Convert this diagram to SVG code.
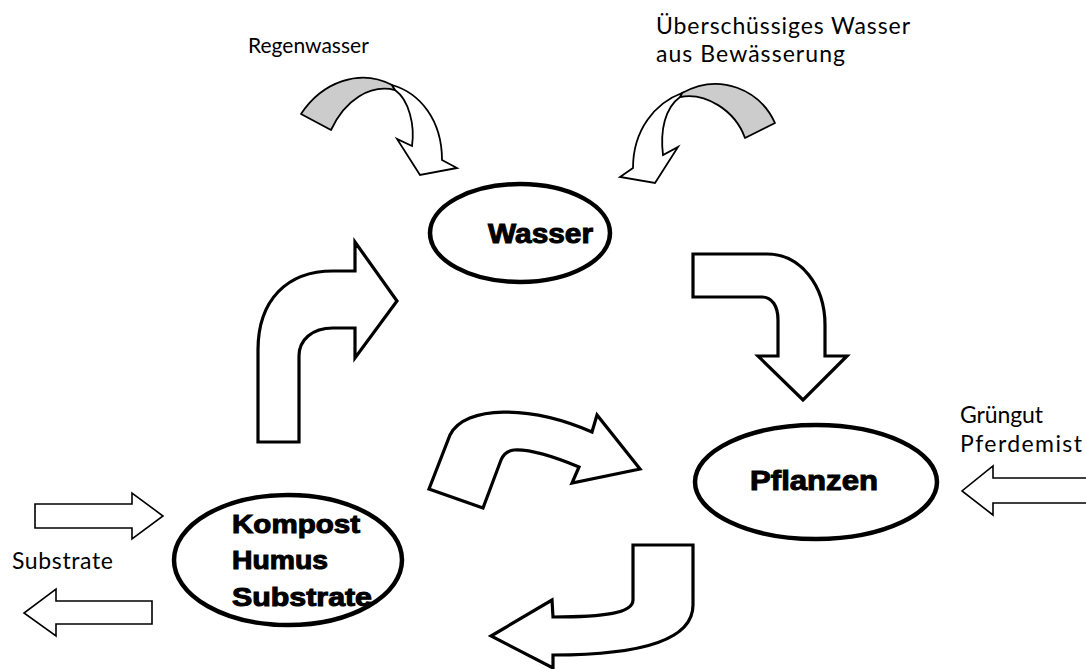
<svg xmlns="http://www.w3.org/2000/svg" width="1086" height="669" viewBox="0 0 1086 669">
<style>
.node{fill:#fff;stroke:#000;stroke-width:4.5}
.big{font-family:"Liberation Sans",Arial,sans-serif;font-weight:bold;fill:#000;stroke:#000;stroke-width:1}
.lbl{font-family:Lato,"Liberation Sans",sans-serif;font-size:23px;fill:#000}
.blk{fill:#fff;stroke:#000;stroke-width:3.2;stroke-linejoin:miter}
.thin{fill:#fff;stroke:#000;stroke-width:1.6;stroke-linejoin:miter}
.grey{fill:#cccccc;stroke:#000;stroke-width:1.8;stroke-linejoin:round}
.curv{fill:#fff;stroke:#000;stroke-width:1.8;stroke-linejoin:miter}
</style>
<rect width="1086" height="669" fill="#fff"/>
<g id="connectors">
  <!-- Regenwasser inflow -->
  <path class="grey" d="M301,114 C322,82 360,68 392,85 L395,90 C370,84 345,100 331,130 Z"/>
  <path class="curv" d="M392,85 C420,93 442,120 442,160 L457,168 L420,175 L397,139 L412,146 C415,125 409,100 395,90 Z"/>
  <!-- Bewaesserung inflow -->
  <path class="grey" d="M775,123 C760,90 720,72 682,93 L680,97 C705,92 735,110 745,138 Z"/>
  <path class="curv" d="M682,93 C655,103 633,130 633,168 L620,177 L655,183 L678,147 L663,155 C660,130 665,108 680,97 Z"/>
  <!-- Kompost to Wasser -->
  <path class="blk" d="M258,442 L258,350 C258,300 287,271 333,271 L355,271 L355,242 L397,301 L355,358 L355,328 L333,328 C312,328 299,340 299,356 L299,442 Z"/>
  <!-- Wasser to Pflanzen -->
  <path class="blk" d="M693,254 L767,254 C800,254 825,285 825,325 L825,356 L847,356 L803,400 L758,356 L778,356 L778,320 C778,306 772,297 762,297 L693,297 Z"/>
  <!-- Kompost to Pflanzen -->
  <path class="blk" d="M429,489 L450,435 C465,405 530,405 592,432 L597,415 L640,469 L572,483 L579,467 C555,457 530,449 514,450 C506,451 503,455 501,460 L483,508 Z"/>
  <!-- Pflanzen to Kompost -->
  <path class="blk" d="M633,545 L693,545 L693,605 C693,637 650,655 553,655 L553,668 L491,636 L552,600 L553,617 C605,617 633,613 633,600 Z"/>
  <!-- Substrate in/out -->
  <path class="thin" d="M35,504 L132,504 L132,493 L163,516 L132,539 L132,528 L35,528 Z"/>
  <path class="thin" d="M152,601 L56,601 L56,589 L24,613 L56,636 L56,624 L152,624 Z"/>
  <!-- Gruengut / Pferdemist inflow -->
  <path class="thin" d="M1090,478 L993,478 L993,466 L962,491 L993,515 L993,503 L1090,503 Z"/>
</g>
<g id="wasser">
  <ellipse class="node" cx="520" cy="233" rx="90" ry="49"/>
  <text class="big" x="488" y="243" font-size="27" textLength="105" lengthAdjust="spacingAndGlyphs">Wasser</text>
</g>
<g id="pflanzen">
  <ellipse class="node" cx="816" cy="482" rx="121" ry="57"/>
  <text class="big" x="750" y="490" font-size="27" textLength="128" lengthAdjust="spacingAndGlyphs">Pflanzen</text>
</g>
<g id="kompost">
  <ellipse class="node" cx="288" cy="560" rx="114" ry="65"/>
  <text class="big" x="232" y="533" font-size="25" textLength="128" lengthAdjust="spacingAndGlyphs">Kompost</text>
  <text class="big" x="232" y="569" font-size="25" textLength="96" lengthAdjust="spacingAndGlyphs">Humus</text>
  <text class="big" x="232" y="606" font-size="25" textLength="140" lengthAdjust="spacingAndGlyphs">Substrate</text>
</g>
<g id="labels">
  <text class="lbl" x="248" y="53" font-size="21" style="font-size:21px">Regenwasser</text>
  <text class="lbl" x="656" y="34" textLength="254">Überschüssiges Wasser</text>
  <text class="lbl" x="656" y="62" textLength="189">aus Bewässerung</text>
  <text class="lbl" x="960" y="423" textLength="83">Grüngut</text>
  <text class="lbl" x="960" y="452" textLength="122">Pferdemist</text>
  <text class="lbl" x="12" y="569" textLength="101">Substrate</text>
</g>
</svg>
